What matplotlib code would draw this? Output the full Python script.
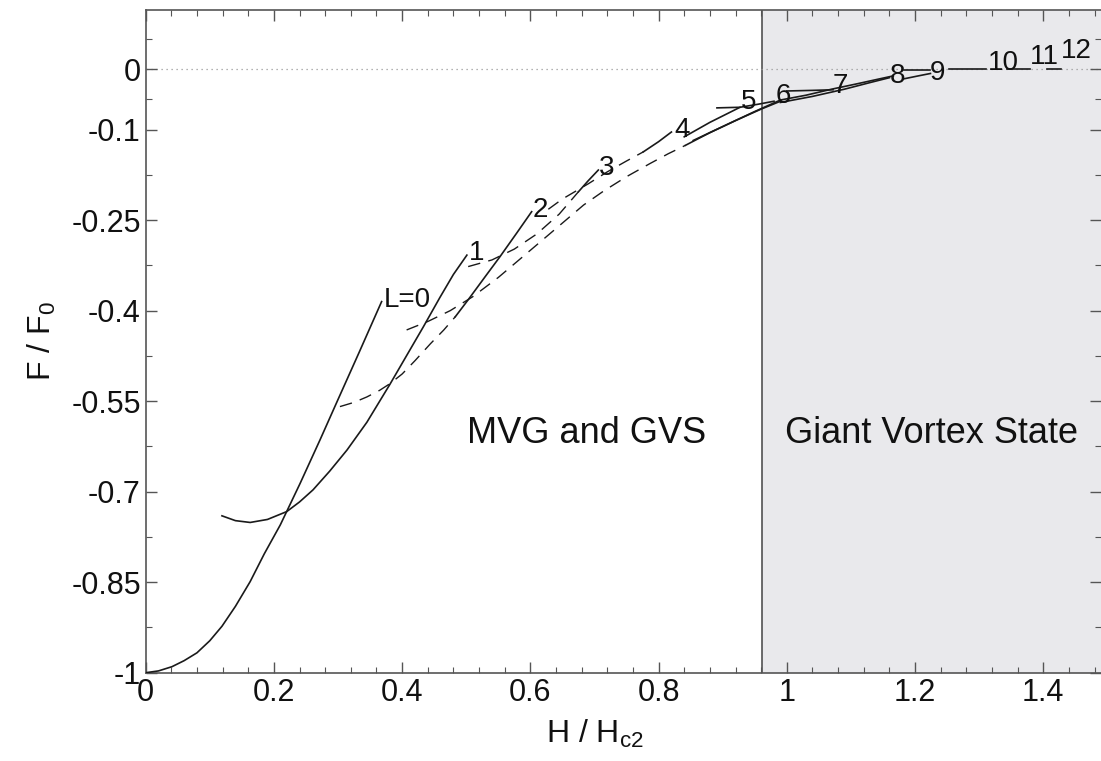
import matplotlib
matplotlib.use("Agg")
import matplotlib.pyplot as plt
from matplotlib.ticker import FixedLocator, MultipleLocator

plt.rcParams['font.family'] = ['Liberation Sans', 'DejaVu Sans']
plt.rcParams['mathtext.default'] = 'regular'

# ---------------- data ----------------
# giant-vortex (solid) branches
L0_H = [0.0, 0.02, 0.041, 0.06, 0.080, 0.10, 0.119, 0.14, 0.163, 0.185, 0.21, 0.241, 0.272, 0.298, 0.333, 0.368]
L0_F = [-1.0, -0.997, -0.990, -0.980, -0.967, -0.947, -0.923, -0.89, -0.849, -0.803, -0.755, -0.686, -0.614, -0.552, -0.469, -0.385]

L1_H = [0.119, 0.14, 0.163, 0.19, 0.22, 0.24, 0.261, 0.287, 0.314, 0.345, 0.381, 0.41, 0.433, 0.459, 0.48, 0.501]
L1_F = [-0.740, -0.748, -0.751, -0.746, -0.733, -0.717, -0.697, -0.666, -0.631, -0.585, -0.522, -0.469, -0.427, -0.378, -0.340, -0.308]

L2_gv_H = [0.483, 0.503, 0.53, 0.553, 0.579, 0.602]
L2_gv_F = [-0.410, -0.382, -0.343, -0.310, -0.271, -0.236]

L3_gv_H = [0.675, 0.69, 0.706]
L3_gv_F = [-0.203, -0.185, -0.167]

L4_gv_H = [0.776, 0.80, 0.82]
L4_gv_F = [-0.137, -0.120, -0.104]

L5_H = [0.84, 0.88, 0.927]
L5_F = [-0.112, -0.088, -0.063]

L6_H = [0.891, 0.927, 0.955, 0.98]
L6_F = [-0.064, -0.063, -0.058, -0.053]

L7_H = [1.0, 1.04, 1.072]
L7_F = [-0.036, -0.035, -0.034]

GA_H = [0.842, 0.88, 0.92, 0.96, 0.99]
GA_F = [-0.126, -0.105, -0.085, -0.066, -0.053]

GB_H = [0.854, 0.90, 0.95, 0.99]
GB_F = [-0.118, -0.095, -0.070, -0.051]

L8_H = [0.99, 1.03, 1.07, 1.11, 1.14, 1.166]
L8_F = [-0.051, -0.043, -0.033, -0.024, -0.017, -0.011]

GC_H = [0.99, 1.04, 1.09, 1.13, 1.16]
GC_F = [-0.055, -0.045, -0.033, -0.022, -0.014]

L9_H = [1.182, 1.205, 1.224]
L9_F = [-0.016, -0.011, -0.007]

L10_H = [1.182, 1.224]
L10_F = [-0.001, -0.001]
L10b_H = [1.253, 1.31]
L10b_F = [0.0, 0.0]

L11_H = [1.343, 1.38]
L11_F = [0.0, 0.0]

L12_H = [1.406, 1.428]
L12_F = [0.0, 0.0]

# multi-vortex (dashed) branches
L2_mv_H = [0.303, 0.325, 0.345, 0.365, 0.381, 0.40, 0.42, 0.444, 0.465, 0.483]
L2_mv_F = [-0.559, -0.552, -0.543, -0.532, -0.521, -0.505, -0.483, -0.455, -0.432, -0.410]

MVb_H = [0.407, 0.44, 0.475, 0.51, 0.55, 0.60, 0.641, 0.683, 0.714, 0.75, 0.787, 0.815, 0.842]
MVb_F = [-0.432, -0.418, -0.400, -0.377, -0.345, -0.300, -0.263, -0.225, -0.202, -0.178, -0.156, -0.140, -0.126]

L3_mv_H = [0.503, 0.54, 0.575, 0.61, 0.645, 0.675]
L3_mv_F = [-0.327, -0.316, -0.298, -0.273, -0.240, -0.203]

L4_mv_H = [0.628, 0.65, 0.69, 0.72, 0.75, 0.776]
L4_mv_F = [-0.232, -0.215, -0.190, -0.170, -0.152, -0.137]

# labels
lab_text = ['L=0', '1', '2', '3', '4', '5', '6', '7', '8', '9', '10', '11', '12']
lab_H = [0.372, 0.504, 0.603, 0.707, 0.825, 0.928, 0.983, 1.071, 1.160, 1.223, 1.313, 1.379, 1.428]
lab_F = [-0.383, -0.305, -0.233, -0.163, -0.101, -0.055, -0.044, -0.027, -0.012, -0.007, 0.010, 0.020, 0.031]

xticks = [0, 0.2, 0.4, 0.6, 0.8, 1.0, 1.2, 1.4]
xtick_labels = ['0', '0.2', '0.4', '0.6', '0.8', '1', '1.2', '1.4']
yticks = [0, -0.1, -0.25, -0.4, -0.55, -0.7, -0.85, -1.0]
ytick_labels = ['0', '-0.1', '-0.25', '-0.4', '-0.55', '-0.7', '-0.85', '-1']
yminor = [0.05, -0.05, -0.175, -0.325, -0.475, -0.625, -0.775, -0.925]

H_boundary = 0.962
xlim = (0.0, 1.49)
ylim = (-1.0, 0.099)

# ---------------- figure ----------------
fig = plt.figure(figsize=(11.01, 7.61), dpi=100)
ax = fig.add_axes([0.1323, 0.116, 0.8677, 0.8715])
ax.set_xlim(*xlim)
ax.set_ylim(*ylim)

ax.axvspan(H_boundary, xlim[1], color='#e9e9ec', zorder=0, lw=0)
ax.axvline(H_boundary, color='#444444', lw=1.1, zorder=1)
ax.axhline(0, color='#999999', lw=0.9, ls=(0, (1, 3)), zorder=1)

lc = '#1a1a1a'
solid = [(L0_H, L0_F), (L1_H, L1_F), (L2_gv_H, L2_gv_F), (L3_gv_H, L3_gv_F),
         (L4_gv_H, L4_gv_F), (L5_H, L5_F), (L6_H, L6_F), (L7_H, L7_F),
         (GA_H, GA_F), (GB_H, GB_F), (L8_H, L8_F), (GC_H, GC_F), (L9_H, L9_F),
         (L10_H, L10_F), (L10b_H, L10b_F), (L11_H, L11_F), (L12_H, L12_F)]
for h, f in solid:
    ax.plot(h, f, color=lc, lw=1.2, zorder=3)

dashed = [(L2_mv_H, L2_mv_F), (MVb_H, MVb_F), (L3_mv_H, L3_mv_F), (L4_mv_H, L4_mv_F)]
for h, f in dashed:
    ax.plot(h, f, color=lc, lw=1.0, ls=(0, (9, 6)), zorder=3)

for t, h, f in zip(lab_text, lab_H, lab_F):
    ax.text(h, f, t, fontsize=20, ha='left', va='center', color='#111111', zorder=4)

ax.text(0.687, -0.603, 'MVG and GVS', fontsize=26, ha='center', va='center', color='#111111')
ax.text(1.225, -0.603, 'Giant Vortex State', fontsize=26, ha='center', va='center', color='#111111')

ax.xaxis.set_major_locator(FixedLocator(xticks))
ax.set_xticklabels(xtick_labels)
ax.xaxis.set_minor_locator(MultipleLocator(0.04))
ax.yaxis.set_major_locator(FixedLocator(yticks))
ax.set_yticklabels(ytick_labels)
ax.yaxis.set_minor_locator(FixedLocator(yminor))

ax.tick_params(which='both', direction='in', top=True, right=True, colors='#555555',
               labelcolor='#111111', labelsize=22)
ax.tick_params(which='major', length=8, width=1.0)
ax.tick_params(which='minor', length=4, width=0.8)
ax.tick_params(axis='x', pad=4)
ax.tick_params(axis='y', pad=3.5)

for side in ['left', 'bottom', 'top']:
    ax.spines[side].set_color('#555555')
    ax.spines[side].set_linewidth(1.2)
ax.spines['right'].set_visible(False)

ax.set_xlabel('H / H$_{c2}$', fontsize=23, color='#111111')
ax.set_ylabel('F / F$_0$', fontsize=23, color='#111111')
ax.xaxis.set_label_coords(0.47, -0.068)
ax.yaxis.set_label_coords(-0.092, 0.5)

fig.savefig('out.png', dpi=100)
